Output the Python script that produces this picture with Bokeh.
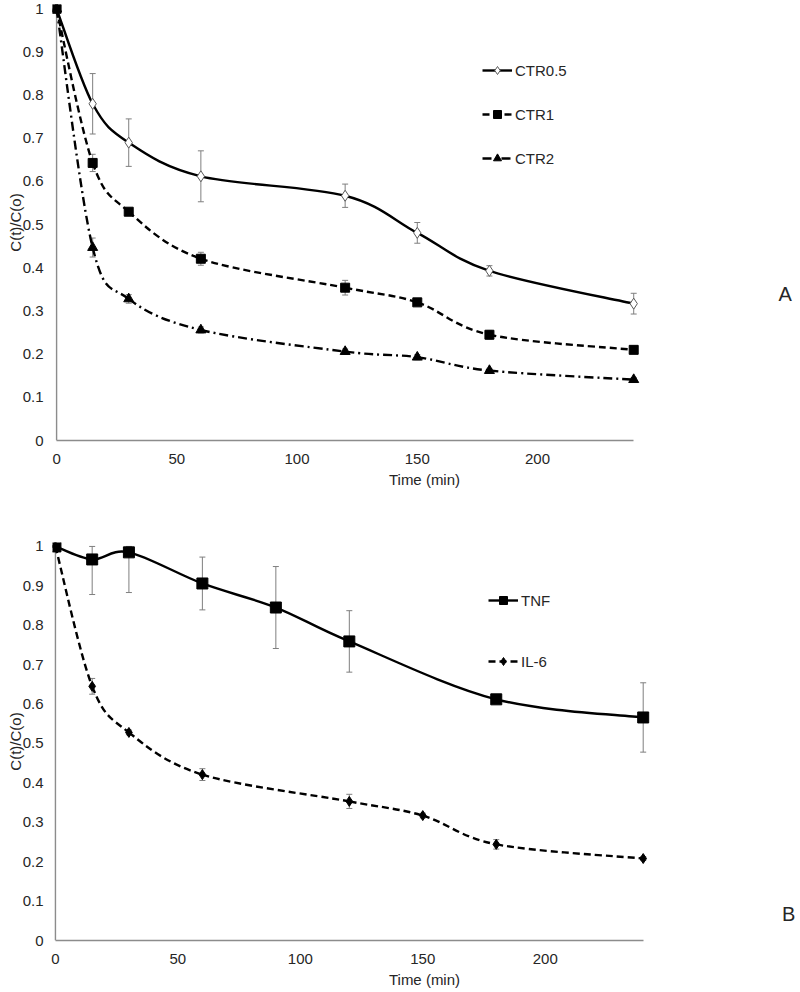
import numpy as np
from bokeh.plotting import figure
from bokeh.layouts import column
from bokeh.models import (ColumnDataSource, Whisker, TeeHead, Legend, LegendItem,
                          FixedTicker, NumeralTickFormatter, Label, Range1d)
from bokeh.embed import file_html
from bokeh.resources import INLINE

# ---------------- data ----------------
# Panel A
time_a = [0, 15, 30, 60, 120, 150, 180, 240]
ctr05 = [1.0, 0.780, 0.690, 0.612, 0.567, 0.481, 0.393, 0.317]
ctr05_err = [0.0, 0.070, 0.055, 0.059, 0.027, 0.024, 0.012, 0.024]
ctr1 = [1.0, 0.643, 0.530, 0.421, 0.354, 0.320, 0.245, 0.210]
ctr1_err = [0.0, 0.020, 0.008, 0.015, 0.017, 0.006, 0.010, 0.008]
ctr2 = [1.0, 0.447, 0.328, 0.256, 0.206, 0.193, 0.162, 0.141]
ctr2_err = [0.0, 0.022, 0.010, 0.007, 0.006, 0.006, 0.005, 0.005]

# Panel B
time_tnf = [0, 15, 30, 60, 90, 120, 180, 240]
tnf = [1.0, 0.967, 0.985, 0.906, 0.845, 0.759, 0.612, 0.566]
tnf_err = [0.0, 0.089, 0.102, 0.067, 0.104, 0.078, 0.008, 0.088]
time_il6 = [0, 15, 30, 60, 120, 150, 180, 240]
il6 = [1.0, 0.645, 0.528, 0.421, 0.353, 0.317, 0.244, 0.208]
il6_err = [0.0, 0.020, 0.006, 0.015, 0.018, 0.006, 0.012, 0.005]

x_ticks = [0, 50, 100, 150, 200]
y_ticks = [0, 0.1, 0.2, 0.3, 0.4, 0.5, 0.6, 0.7, 0.8, 0.9, 1.0]
x_label = "Time (min)"
y_label = "C(t)/C(o)"

FONT = "Liberation Sans"
TXT = "#262626"
AXC = "#8c8c8c"
ERRC = "#7f7f7f"
W = 796


def smooth_src(x, y):
    x = np.asarray(x, float)
    y = np.asarray(y, float)
    n = len(x)
    xp = np.concatenate([[x[0]], x, [x[-1]]])
    yp = np.concatenate([[y[0]], y, [y[-1]]])
    return ColumnDataSource(dict(
        x0=x[:-1], y0=y[:-1], x1=x[1:], y1=y[1:],
        cx0=x[:-1] + (xp[2:n + 1] - xp[0:n - 1]) / 6.0,
        cy0=y[:-1] + (yp[2:n + 1] - yp[0:n - 1]) / 6.0,
        cx1=x[1:] - (xp[3:n + 2] - xp[1:n]) / 6.0,
        cy1=y[1:] - (yp[3:n + 2] - yp[1:n]) / 6.0,
    ))


def add_err(p, x, y, e):
    x = np.asarray(x, float)
    y = np.asarray(y, float)
    e = np.asarray(e, float)
    m = e > 0
    src = ColumnDataSource(dict(x=x[m], lower=y[m] - e[m],
                                upper=np.minimum(y[m] + e[m], 1.0)))
    w = Whisker(source=src, base="x", lower="lower", upper="upper",
                line_color=ERRC, line_width=1,
                upper_head=TeeHead(size=6, line_color=ERRC, line_width=1),
                lower_head=TeeHead(size=6, line_color=ERRC, line_width=1),
                level="underlay")
    p.add_layout(w)


def add_series(p, x, y, e, dash, marker, size, fill, mline):
    add_err(p, x, y, e)
    bz = p.bezier(source=smooth_src(x, y), x0="x0", y0="y0", x1="x1", y1="y1",
                  cx0="cx0", cy0="cy0", cx1="cx1", cy1="cy1",
                  line_color="black", line_width=2.4, line_dash=dash)
    sc = p.scatter(x=x, y=y, marker=marker, size=size, fill_color=fill,
                   line_color=mline, line_width=1)
    return [bz, sc]


def make_fig(h, x_start, x_end, bl, bt, bb, title_standoff):
    p = figure(width=W, height=h, x_range=Range1d(x_start, x_end),
               y_range=Range1d(0, 1.01), output_backend="svg",
               toolbar_location=None, min_border_left=bl, min_border_right=0,
               min_border_top=bt, min_border_bottom=bb)
    p.grid.visible = False
    p.outline_line_color = None
    p.background_fill_color = "white"
    xa = p.xaxis[0]
    xa.ticker = FixedTicker(ticks=x_ticks)
    xa.bounds = (0, 240)
    xa.axis_line_color = AXC
    xa.axis_line_width = 1.4
    xa.major_tick_line_color = None
    xa.minor_tick_line_color = None
    xa.major_label_standoff = 7
    xa.axis_label = x_label
    xa.axis_label_standoff = title_standoff
    ya = p.yaxis[0]
    ya.ticker = FixedTicker(ticks=y_ticks)
    ya.formatter = NumeralTickFormatter(format="0.[0]")
    ya.axis_line_color = None
    ya.major_tick_line_color = None
    ya.minor_tick_line_color = None
    ya.major_label_standoff = 3
    ya.axis_label = y_label
    ya.axis_label_standoff = -4
    for ax in (xa, ya):
        ax.major_label_text_font = FONT
        ax.major_label_text_font_size = "15px"
        ax.major_label_text_color = TXT
        ax.axis_label_text_font = FONT
        ax.axis_label_text_font_size = "15px"
        ax.axis_label_text_font_style = "normal"
        ax.axis_label_text_color = TXT
    # y axis line at x = 0
    p.segment(x0=[0], y0=[0], x1=[0], y1=[1], line_color=AXC, line_width=1.4)
    return p


def make_legend(items, loc, spacing):
    return Legend(items=items, location=loc, orientation="vertical",
                  background_fill_alpha=0, border_line_color=None,
                  label_text_font=FONT, label_text_font_size="15px",
                  label_text_color=TXT, glyph_width=30, glyph_height=20,
                  label_height=20, spacing=spacing, padding=0, margin=0,
                  label_standoff=3)


# ---------------- Panel A ----------------
pa = make_fig(501, -1.7, 307.7, 52, 4, 61, 4)
r05 = add_series(pa, time_a, ctr05, ctr05_err, "solid", "diamond", 11, "white", "#595959")
r1 = add_series(pa, time_a, ctr1, ctr1_err, "7 4", "square", 9, "black", "black")
r2 = add_series(pa, time_a, ctr2, ctr2_err, "9 4 2 4", "triangle", 10, "black", "black")
pa.add_layout(make_legend([LegendItem(label="CTR0.5", renderers=r05),
                           LegendItem(label="CTR1", renderers=r1),
                           LegendItem(label="CTR2", renderers=r2)], (430, 272), 24))
pa.add_layout(Label(x=303, y=0.34, text="A", text_font=FONT, text_font_size="20px",
                    text_color=TXT, text_align="center", text_baseline="middle"))

# ---------------- Panel B ----------------
pb = make_fig(489, -1.2, 302.6, 50, 41, 50, 4)
rt = add_series(pb, time_tnf, tnf, tnf_err, "solid", "square", 11, "black", "black")
ri = add_series(pb, time_il6, il6, il6_err, "7 4", "diamond", 10, "black", "black")
pb.add_layout(make_legend([LegendItem(label="TNF", renderers=rt),
                           LegendItem(label="IL-6", renderers=ri)], (436, 269), 41))
pb.add_layout(Label(x=299.4, y=0.0685, text="B", text_font=FONT, text_font_size="20px",
                    text_color=TXT, text_align="center", text_baseline="middle"))

layout = column(pa, pb, spacing=0)
open("out.html", "w").write(file_html(layout, INLINE))
